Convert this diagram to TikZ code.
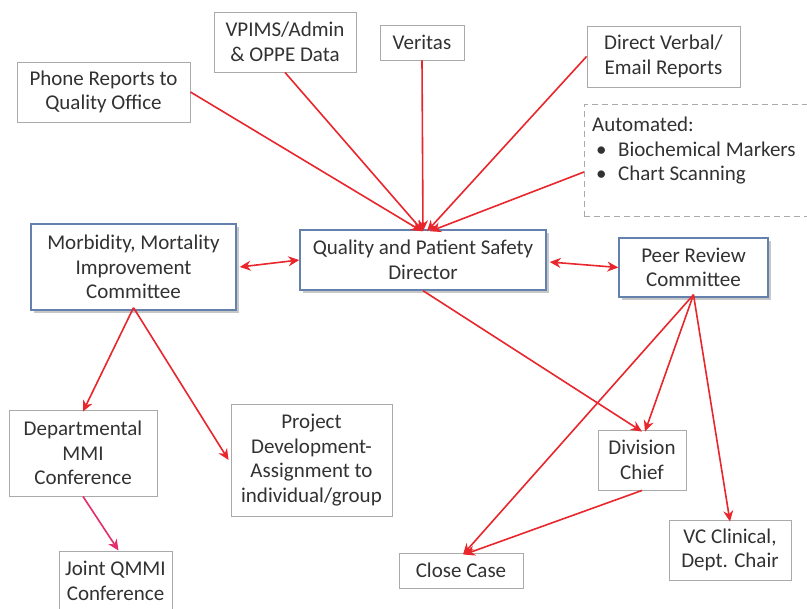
\documentclass[tikz,border=0pt]{standalone}
\usepackage{fontspec}
\setmainfont{Carlito}
\usetikzlibrary{arrows.meta,shadows}
\definecolor{arrowred}{RGB}{232,38,44}
\definecolor{arrowpink}{RGB}{226,44,110}
\definecolor{boxgray}{RGB}{170,170,170}
\definecolor{boxblue}{RGB}{100,128,172}
\definecolor{textgray}{RGB}{50,50,50}
\tikzset{
  plainbox/.style={draw=boxgray, line width=0.9pt, fill=white, align=center,
    inner sep=0pt, text=textgray},
  mainbox/.style={draw=boxblue, line width=1.4pt, fill=white, align=center,
    inner sep=0pt, text=textgray,
    drop shadow={shadow xshift=2.5pt, shadow yshift=-3pt, fill=black!40, opacity=.55}},
  dashbox/.style={draw=boxgray, line width=1pt, dash pattern=on 6pt off 4pt},
  arr/.style={draw=arrowred, line width=1.6pt, -{Stealth[length=11pt,width=10pt]}},
  biarr/.style={draw=arrowred, line width=1.6pt,
    {Stealth[length=11pt,width=10pt]}-{Stealth[length=11pt,width=10pt]}},
  pinkarr/.style={draw=arrowpink, line width=1.6pt, -{Stealth[length=11pt,width=10pt]}},
}
\begin{document}
\begin{tikzpicture}[x=1pt, y=-1pt, font=\fontsize{21}{24.5}\selectfont]
\useasboundingbox (0,0) rectangle (807,609);

% sources of reports
\node[plainbox, minimum width=173pt, minimum height=60pt] (phone) at (103.5,92) {Phone Reports to\\Quality Office};
\node[plainbox, minimum width=142pt, minimum height=60pt] (vpims) at (285,42) {VPIMS/Admin\\\& OPPE Data};
\node[plainbox, minimum width=84pt, minimum height=35pt] (veritas) at (422,42.5) {Veritas};
\node[plainbox, minimum width=153pt, minimum height=61pt] (direct) at (663.5,56.5) {Direct Verbal/\\Email Reports};
\node[dashbox, minimum width=246pt, minimum height=112pt] (autobox) at (707,161) {};
\node[anchor=north west, align=left, inner sep=0pt, text=textgray] (autotxt) at (592,117)
  {Automated:\\\hspace*{4pt}\makebox[22pt][l]{•}Biochemical Markers\\\hspace*{4pt}\makebox[22pt][l]{•}Chart Scanning};
\coordinate (autoin) at (584,172);

% committees and director
\node[mainbox, minimum width=246pt, minimum height=60pt] (qps) at (423,260) {Quality and Patient Safety\\Director};
\node[mainbox, minimum width=205pt, minimum height=86pt] (mmi) at (133.5,267) {Morbidity, Mortality\\Improvement\\Committee};
\node[mainbox, minimum width=149pt, minimum height=59pt] (peer) at (693.5,267.5) {Peer Review\\Committee};

% outcomes
\node[plainbox, minimum width=148pt, minimum height=86pt] (dept) at (83,453) {Departmental\\MMI\\Conference};
\node[plainbox, minimum width=161pt, minimum height=112pt] (proj) at (311.5,460) {Project\\Development-\\Assignment to\\individual/group};
\node[plainbox, minimum width=113pt, minimum height=60pt] (joint) at (115.5,581) {Joint QMMI\\Conference};
\node[plainbox, minimum width=88pt, minimum height=60pt] (chief) at (642,460) {Division\\Chief};
\node[plainbox, minimum width=122pt, minimum height=60pt] (vc) at (730,550) {VC Clinical,\\Dept. Chair};
\node[plainbox, minimum width=124pt, minimum height=35pt] (close) at (461,570.5) {Close Case};

% reports flowing to the director
\draw[arr] (phone.east) -- ([xshift=-1pt,yshift=-2pt]qps.north);
\draw[arr] (vpims.south) -- ([yshift=-2pt]qps.north);
\draw[arr] (veritas.south) -- ([yshift=-2pt]qps.north);
\draw[arr] (direct.west) -- ([xshift=4pt,yshift=-2pt]qps.north);
\draw[arr] (autoin) -- ([xshift=7pt,yshift=-2pt]qps.north);

% two-way links
\draw[biarr] ([xshift=3pt]mmi.east) -- (qps.west);
\draw[biarr] ([xshift=3pt,yshift=-2pt]qps.east) -- (peer.west);

% director and peer review outcomes
\draw[arr] (qps.south) -- ([yshift=-2pt]chief.north);
\draw[arr] ([yshift=3pt]peer.south) -- ([xshift=2pt,yshift=-2pt]close.north);
\draw[arr] ([yshift=3pt]peer.south) -- ([xshift=3pt,yshift=-2pt]chief.north);
\draw[arr] ([yshift=3pt]peer.south) -- ([yshift=-2pt]vc.north);
\draw[arr] (chief.south) -- ([xshift=3pt,yshift=-2pt]close.north);

% morbidity and mortality outcomes
\draw[arr] ([yshift=3pt]mmi.south) -- ([yshift=-2pt]dept.north);
\draw[arr] ([yshift=3pt]mmi.south) -- ([xshift=-2pt]proj.west);
\draw[pinkarr] (dept.south) -- ([xshift=3pt]joint.north);
\end{tikzpicture}
\end{document}
